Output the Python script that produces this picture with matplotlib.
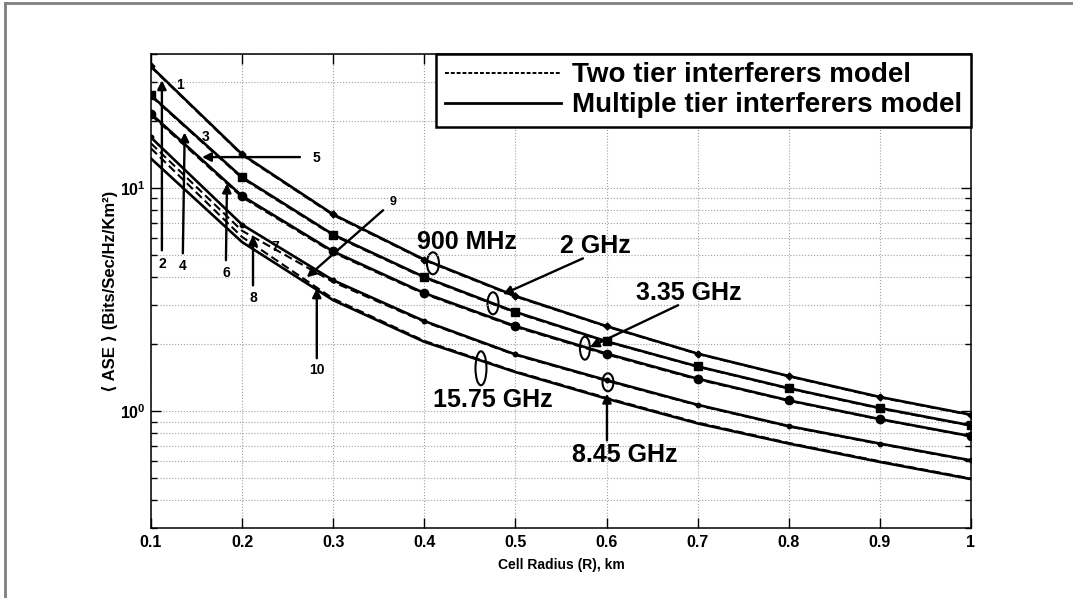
import numpy as np
import matplotlib
matplotlib.use('Agg')
import matplotlib.pyplot as plt
from matplotlib.lines import Line2D
from matplotlib.patches import Ellipse
from matplotlib.transforms import ScaledTranslation
from matplotlib.ticker import FixedLocator, LogLocator, NullFormatter, FuncFormatter

plt.rcParams['font.family'] = ['Liberation Sans', 'DejaVu Sans']
plt.rcParams['font.weight'] = 'bold'
plt.rcParams['mathtext.fontset'] = 'custom'
plt.rcParams['mathtext.rm'] = 'Liberation Sans'
plt.rcParams['mathtext.bf'] = 'Liberation Sans:bold'

# cell radius, km
radius = [0.1, 0.2, 0.3, 0.4, 0.5, 0.6, 0.7, 0.8, 0.9, 1.0]

# multiple tier interferers model
ase_900_multi = [35.2, 14.2, 7.64, 4.79, 3.29, 2.41, 1.815, 1.44, 1.16, 0.966]
ase_2g_multi = [26.1, 11.2, 6.2, 4.0, 2.79, 2.06, 1.59, 1.27, 1.035, 0.865]
ase_335_multi = [21.6, 9.24, 5.21, 3.39, 2.41, 1.815, 1.40, 1.12, 0.923, 0.774]
ase_845_multi = [16.9, 6.87, 3.87, 2.54, 1.80, 1.38, 1.07, 0.859, 0.717, 0.603]
ase_1575_multi = [13.6, 5.74, 3.15, 2.05, 1.50, 1.14, 0.883, 0.717, 0.593, 0.497]

# two tier interferers model
ase_900_two = [35.0, 14.1, 7.58, 4.76, 3.27, 2.40, 1.81, 1.435, 1.155, 0.962]
ase_2g_two = [25.9, 11.1, 6.15, 3.97, 2.77, 2.05, 1.585, 1.265, 1.03, 0.862]
ase_335_two = [21.3, 9.12, 5.15, 3.36, 2.39, 1.80, 1.39, 1.115, 0.92, 0.771]
ase_845_two = [15.9, 6.45, 3.80, 2.52, 1.79, 1.37, 1.065, 0.855, 0.714, 0.600]
ase_1575_two = [15.1, 6.05, 3.20, 2.07, 1.51, 1.15, 0.89, 0.722, 0.597, 0.500]

multi_series = [ase_900_multi, ase_2g_multi, ase_335_multi, ase_845_multi, ase_1575_multi]
two_series = [ase_900_two, ase_2g_two, ase_335_two, ase_845_two, ase_1575_two]
markers = [('D', 3.5), ('s', 6), ('o', 6), ('o', 3.2), (None, 0)]

x_ticks = [0.1, 0.2, 0.3, 0.4, 0.5, 0.6, 0.7, 0.8, 0.9, 1.0]
x_ticklabels = ['0.1', '0.2', '0.3', '0.4', '0.5', '0.6', '0.7', '0.8', '0.9', '1']

fig = plt.figure(figsize=(10.73, 5.98), dpi=100)
ax = fig.add_axes([0.1407, 0.1171, 0.7642, 0.7926])

for ys in two_series:
    ax.plot(radius, ys, color='k', ls='--', lw=1.5, dashes=(4, 2))
for ys, (m, ms) in zip(multi_series, markers):
    ax.plot(radius, ys, color='k', ls='-', lw=1.9, marker=m, ms=ms,
            mfc='k', mec='k')

ax.set_yscale('log')
ax.set_xlim(0.1, 1.0)
ax.set_ylim(0.3, 40)

ax.xaxis.set_major_locator(FixedLocator(x_ticks))
ax.set_xticklabels(x_ticklabels)
ax.yaxis.set_major_locator(FixedLocator([1, 10]))
ax.yaxis.set_major_formatter(FuncFormatter(lambda v, p: r'$\mathbf{10^{%d}}$' % round(np.log10(v))))
ax.yaxis.set_minor_locator(LogLocator(base=10, subs=np.arange(2, 10)))
ax.yaxis.set_minor_formatter(NullFormatter())

ax.tick_params(which='both', direction='in', top=True, right=True, labelsize=11.5, width=1)
ax.tick_params(which='major', length=7)
ax.tick_params(which='minor', length=4)
for lab in ax.get_xticklabels() + ax.get_yticklabels():
    lab.set_fontweight('bold')
ax.tick_params(axis='x', pad=5)

ax.grid(True, which='both', ls=':', color='#a0a0a0', lw=0.8)
for sp in ax.spines.values():
    sp.set_linewidth(1.1)

ax.set_xlabel('Cell Radius (R), km', fontsize=10, fontweight='bold', labelpad=6)
ax.set_ylabel('\u27e8 ASE \u27e9 (Bits/Sec/Hz/Km\u00b2)', fontsize=12,
              fontweight='bold', labelpad=2)

leg_handles = [Line2D([], [], color='k', ls='--', lw=1.4, dashes=(2, 1)),
               Line2D([], [], color='k', ls='-', lw=2.0)]
leg = ax.legend(leg_handles, ['Two tier interferers model', 'Multiple tier interferers model'],
                loc='upper right', bbox_to_anchor=(1, 1), borderaxespad=0,
                prop={'size': 20, 'weight': 'bold'}, handlelength=4.2,
                handletextpad=0.4, labelspacing=0.15, borderpad=0.3,
                fancybox=False, framealpha=1, edgecolor='k')
leg.get_frame().set_linewidth(1.8)


def arrow(tip, tail, label=None, label_xy=None, ha='center', fs=10):
    ax.annotate('', xy=tip, xytext=tail,
                arrowprops=dict(arrowstyle='-|>', color='k', lw=1.7,
                                mutation_scale=13, shrinkA=0, shrinkB=0))
    if label is not None:
        ax.text(label_xy[0], label_xy[1], label, ha=ha, va='center',
                fontsize=fs, fontweight='bold')


def ring(x, y, w_px, h_px):
    tr = fig.dpi_scale_trans + ScaledTranslation(x, y, ax.transData)
    ax.add_patch(Ellipse((0, 0), w_px / 100, h_px / 100, transform=tr,
                         fill=False, ec='k', lw=1.5))


# curve numbers
ax.text(0.132, 29.0, '1', fontsize=10, fontweight='bold', ha='center', va='center')
arrow((0.112, 30.5), (0.112, 5.27), '2', (0.112, 4.6))
ax.text(0.160, 16.9, '3', fontsize=10, fontweight='bold', ha='center', va='center')
arrow((0.137, 17.8), (0.135, 5.11), '4', (0.135, 4.5))
arrow((0.156, 13.8), (0.2635, 13.8), '5', (0.277, 13.7), ha='left')
arrow((0.1834, 10.5), (0.1823, 4.76), '6', (0.1823, 4.16))
ax.text(0.236, 5.44, '7', fontsize=10, fontweight='bold', ha='center', va='center')
arrow((0.212, 6.15), (0.212, 3.67), '8', (0.212, 3.21))
arrow((0.271, 3.99), (0.3547, 7.97), '9', (0.362, 8.65), ha='left', fs=9)
arrow((0.282, 3.56), (0.282, 1.73), '10', (0.282, 1.53))

# frequency labels
ax.text(0.4468, 5.73, '900 MHz', fontsize=18, fontweight='bold', ha='center', va='center')
ring(0.4095, 4.61, 12, 22)
ax.text(0.5873, 5.50, '2 GHz', fontsize=18, fontweight='bold', ha='center', va='center')
arrow((0.4863, 3.35), (0.5741, 4.85))
ring(0.4754, 3.05, 11, 22)
ax.text(0.6905, 3.38, '3.35 GHz', fontsize=18, fontweight='bold', ha='center', va='center')
arrow((0.5818, 1.94), (0.6785, 2.99))
ring(0.5763, 1.92, 10, 23)
ax.text(0.4754, 1.12, '15.75 GHz', fontsize=18, fontweight='bold', ha='center', va='center')
ring(0.4622, 1.56, 11, 34)
ax.text(0.6202, 0.64, '8.45 GHz', fontsize=18, fontweight='bold', ha='center', va='center')
arrow((0.6005, 1.20), (0.6005, 0.741))
ring(0.6016, 1.35, 11, 18)

# grey frame on top and left of the picture
fig.add_artist(Line2D([5 / 1073, 1], [1 - 2.5 / 598, 1 - 2.5 / 598], color='#7f7f7f', lw=2))
fig.add_artist(Line2D([5 / 1073, 5 / 1073], [0, 1 - 2.5 / 598], color='#7f7f7f', lw=2))

fig.savefig('out.png', dpi=100)
